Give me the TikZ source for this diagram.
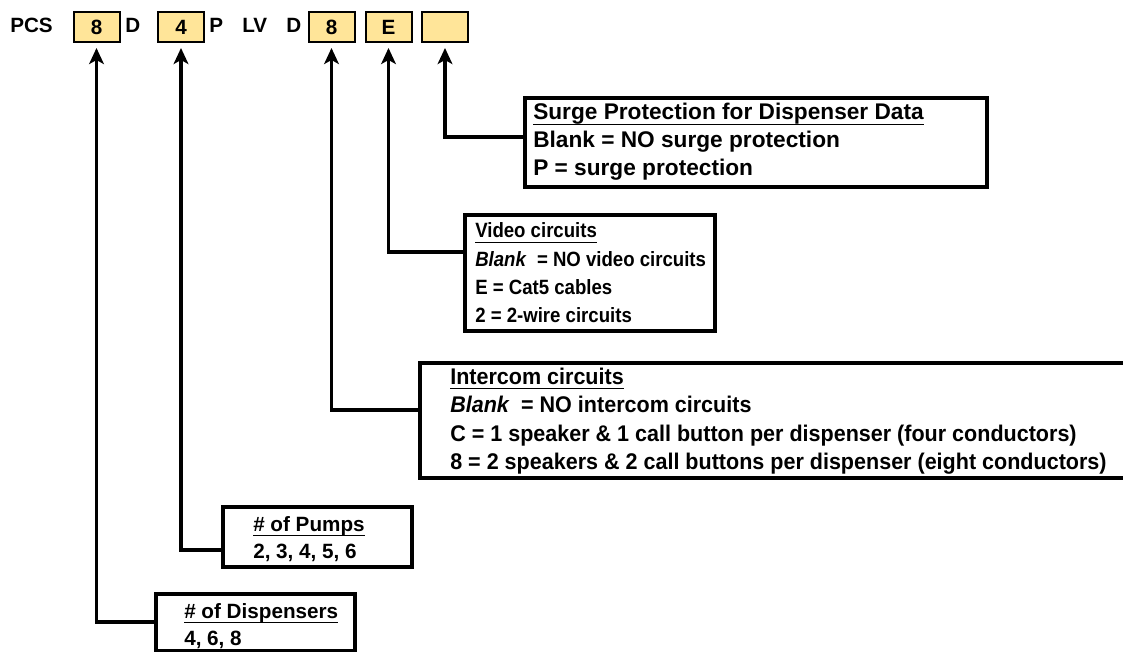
\documentclass[tikz,border=0pt]{standalone}
\usepackage{fontspec}
\setmainfont{Liberation Sans}
\newfontfamily\narrowfont{Liberation Sans}[FakeStretch=0.95]
\newfontfamily\videofont{Liberation Sans}[FakeStretch=0.9]
\usepackage{xcolor}
\usepackage{tikz}
\usetikzlibrary{arrows.meta}

\definecolor{cellfill}{RGB}{255,229,153}
\newcommand{\boxtitle}[1]{\setbox0\hbox{#1}\rlap{\rule[-4pt]{\wd0}{1.2pt}}\box0}

\tikzset{
  code/.style={font=\bfseries\fontsize{15.5}{18}\selectfont, inner sep=0pt},
  cell/.style={code, draw, line width=1.5pt, fill=cellfill, minimum width=34.5pt, minimum height=22.5pt},
  frame/.style={draw, line width=2.8pt, inner sep=0pt},
  line/.style={anchor=base west, inner sep=0pt, font=\bfseries\fontsize{17}{21}\selectfont},
  midline/.style={line, font=\videofont\bfseries\fontsize{15.5}{21}\selectfont},
  narrow/.style={line, font=\narrowfont\bfseries\fontsize{17}{21}\selectfont},
  small/.style={line, font=\bfseries\fontsize{15.5}{21}\selectfont},
  arr/.style={line width=2.3pt, -{Stealth[length=12pt,width=11pt,inset=3pt]}, shorten >=3.75pt},
}

\begin{document}
\begin{tikzpicture}[x=0.75pt,y=-0.75pt]
\useasboundingbox (0,0) rectangle (1123,652);

\node[code, anchor=base west] (pcs) at (10,33) {PCS};
\node[cell] (c1) at (96.5,27) {8};
\node[code, anchor=base west] (d1) at (125,33) {D};
\node[cell] (c2) at (181,27) {4};
\node[code, anchor=base west] (p1) at (209,33) {P};
\node[code, anchor=base west] (lv) at (242,33) {LV};
\node[code, anchor=base west] (d2) at (286,33) {D};
\node[cell] (c3) at (331.5,27) {8};
\node[cell] (c4) at (388.5,27) {E};
\node[cell] (c5) at (445,27) {};

\node[frame, minimum width=346.5pt, minimum height=66.75pt] (surge) at (756,142.5) {};
\node[line] (surge-t) at (533,120) {\boxtitle{Surge Protection for Dispenser Data}};
\node[line] (surge-1) at (533,148) {Blank = NO surge protection};
\node[line] (surge-2) at (533,176) {P = surge protection};

\node[frame, minimum width=187.5pt, minimum height=87pt] (video) at (590,273) {};
\node[midline] (video-t) at (475,238) {\boxtitle{Video circuits}};
\node[midline] (video-1) at (475,266) {\textit{Blank}\enspace= NO video circuits};
\node[midline] (video-2) at (475,294) {E = Cat5 cables};
\node[midline] (video-3) at (475,322) {2 = 2-wire circuits};

\node[frame, minimum width=530.25pt, minimum height=86.25pt] (intercom) at (773.5,420.5) {};
\node[narrow] (intercom-t) at (450,384) {\boxtitle{Intercom circuits}};
\node[narrow] (intercom-1) at (450,412) {\textit{Blank}\enspace= NO intercom circuits};
\node[narrow] (intercom-2) at (450,441) {C = 1 speaker \& 1 call button per dispenser (four conductors)};
\node[narrow] (intercom-3) at (450,469) {8 = 2 speakers \& 2 call buttons per dispenser (eight conductors)};

\node[frame, minimum width=141.75pt, minimum height=45pt] (pumps) at (317.5,537) {};
\node[small] (pumps-t) at (253,531) {\boxtitle{\# of Pumps}};
\node[small] (pumps-1) at (253,558) {2, 3, 4, 5, 6};

\node[frame, minimum width=149.25pt, minimum height=42.4pt] (disp) at (255.5,622.25) {};
\node[small] (disp-t) at (184,618) {\boxtitle{\# of Dispensers}};
\node[small] (disp-1) at (184,645) {4, 6, 8};

\draw[arr] (surge.west |- 0,137) -| (c5.south);
\draw[arr] (video.west |- 0,252) -| (c4.south);
\draw[arr] (intercom.west |- 0,410) -| (c3.south);
\draw[arr] (pumps.west |- 0,550) -| (c2.south);
\draw[arr] (disp.west |- 0,622) -| (c1.south);

\end{tikzpicture}
\end{document}
